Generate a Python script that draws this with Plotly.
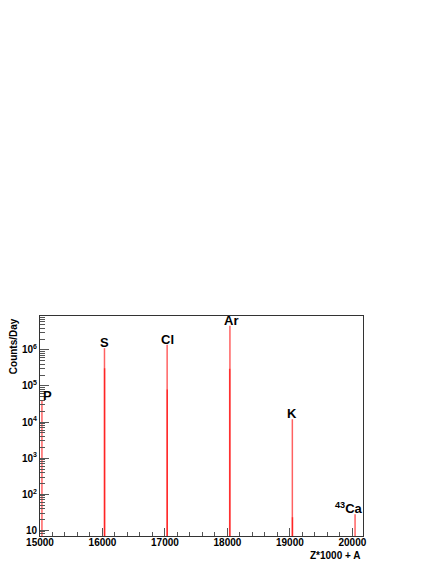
import math
import plotly.graph_objects as go

# isotope bins: x = Z*1000 + A, y = counts/day
element_labels = ["P", "S", "Cl", "Ar", "K", "<sup>43</sup>Ca"]
element_x = [15031, 16032, 17035, 18040, 19039, 20043]
element_peak = [3.9e4, 1.12e6, 1.38e6, 4.7e6, 1.2e4, 28]
label_shift = [6, 0, 0, 1, 0, -6]

isotope_x = [15031, 16032, 16034, 17035, 17037, 18040, 18036, 19039, 19041, 20043]
isotope_counts = [3.9e4, 1.12e6, 3.1e5, 1.38e6, 8e4, 4.7e6, 3e5, 1.2e4, 23, 28]

y_tickvals = [10, 100, 1e3, 1e4, 1e5, 1e6]
y_ticktext = ["10", "10<sup>2</sup>", "10<sup>3</sup>", "10<sup>4</sup>",
              "10<sup>5</sup>", "10<sup>6</sup>"]

font_main = "Liberation Sans, Arial, sans-serif"

fig = go.Figure()

# each bin drawn as a thin vertical line from below the axis up to its count
for xv, cv in zip(isotope_x, isotope_counts):
    fig.add_trace(go.Scatter(
        x=[xv, xv], y=[1, cv], mode="lines",
        line=dict(color="rgba(255,0,0,0.62)", width=1.5),
        hoverinfo="skip", showlegend=False,
    ))

# annotation y on a log axis is given in log10 units
for lab, xv, pv, sh in zip(element_labels, element_x, element_peak, label_shift):
    fig.add_annotation(
        x=xv, y=math.log10(pv), yref="y", xref="x", text=lab, showarrow=False,
        yanchor="bottom", xanchor="center", xshift=sh, yshift=-4,
        font=dict(family=font_main, size=13, color="black", weight="bold"),
    )

# decade minor ticks for the log axis
minor_vals = [m * 10 ** d for d in range(0, 7) for m in range(2, 10)]

fig.update_xaxes(
    range=[15000, 20170], showgrid=False, zeroline=False, automargin=False,
    showline=True, linecolor="#333333", linewidth=1, mirror=True,
    ticks="inside", ticklen=8, tickcolor="#555555", dtick=1000, tick0=15000,
    tickformat="d", ticklabelstandoff=-3,
    minor=dict(ticks="inside", ticklen=4, dtick=200, tick0=15000, tickcolor="#555555", showgrid=False),
    tickfont=dict(family=font_main, size=10, color="black", weight="bold"),
)
fig.update_yaxes(
    type="log", range=[0.842, 6.94], showgrid=False, zeroline=False, automargin=False,
    showline=True, linecolor="#333333", linewidth=1, mirror=True,
    ticks="inside", ticklen=9, tickcolor="#555555",
    tickmode="array", tickvals=y_tickvals, ticktext=y_ticktext,
    minor=dict(ticks="inside", ticklen=5, tickmode="array", tickvals=minor_vals,
               tickcolor="#555555", showgrid=False),
    tickfont=dict(family=font_main, size=10, color="black", weight="bold"),
)

fig.add_annotation(
    text="Counts/Day", xref="paper", yref="paper", x=-0.083, y=1.0,
    xanchor="center", yanchor="top", textangle=-90, showarrow=False,
    font=dict(family=font_main, size=10, color="black", weight="bold"),
)
fig.add_annotation(
    text="Z*1000 + A", xref="paper", yref="paper", x=1.0, y=-0.055,
    xanchor="right", yanchor="top", showarrow=False,
    font=dict(family=font_main, size=10, color="black", weight="bold"),
)

# the page body adds an 8px margin, so the figure is sized to fit inside it
fig.update_layout(
    width=428, height=556,
    margin=dict(l=32, r=73, t=308, b=28),
    plot_bgcolor="white", paper_bgcolor="white",
    showlegend=False,
)

fig.write_html("out.html")
